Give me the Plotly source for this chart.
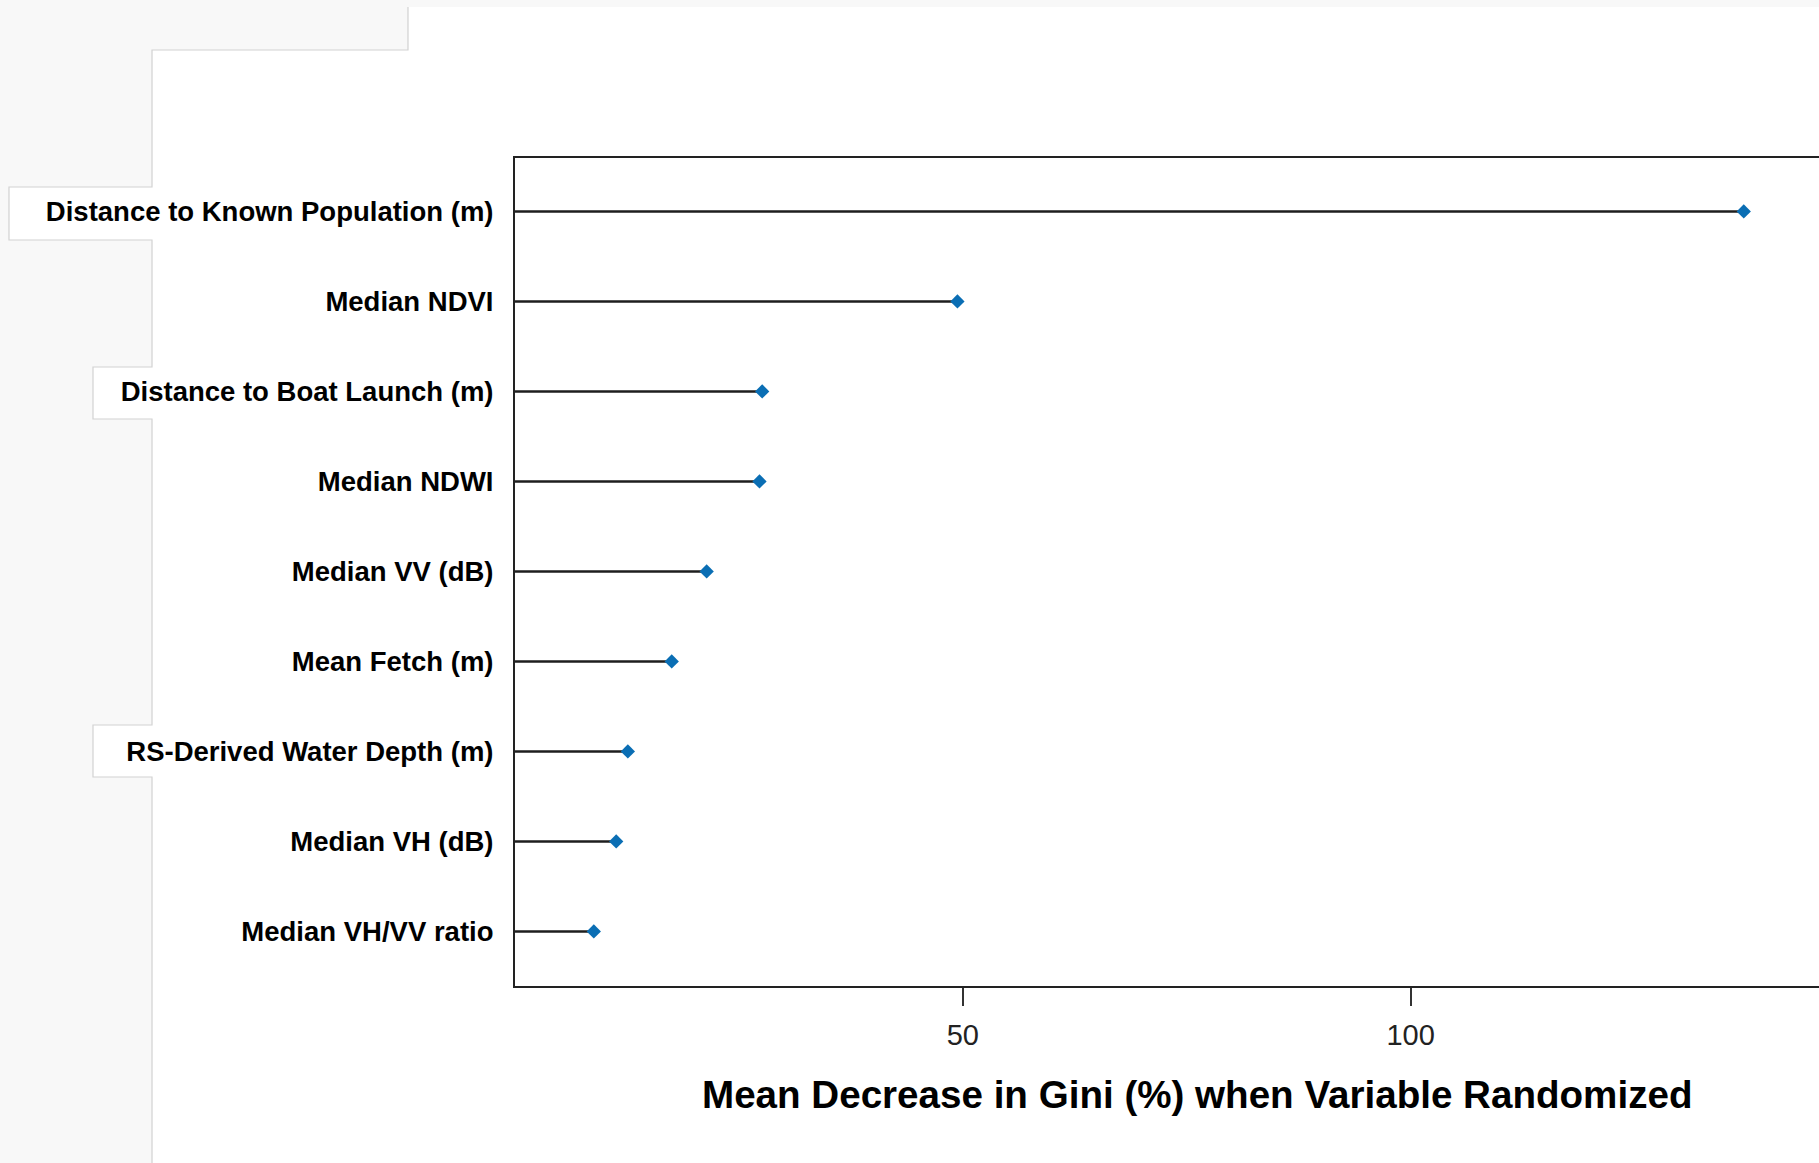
import plotly.graph_objects as go

# ---- data ----
variables = [
    "Distance to Known Population (m)",
    "Median NDVI",
    "Distance to Boat Launch (m)",
    "Median NDWI",
    "Median VV (dB)",
    "Mean Fetch (m)",
    "RS-Derived Water Depth (m)",
    "Median VH (dB)",
    "Median VH/VV ratio",
]
gini_decrease = [137.2, 49.4, 27.6, 27.3, 21.4, 17.5, 12.6, 11.3, 8.8]
x_tick_values = [50, 100]
x_tick_labels = ["50", "100"]
x_title = "Mean Decrease in Gini (%) when Variable Randomized"

# ---- figure geometry ----
W, H = 1819, 1163
ML, MR, MT, MB = 515, 0, 158, 177
PW, PH = W - ML - MR, H - MT - MB


def px(x):
    return (x - ML) / PW


def py(y):
    return (H - MB - y) / PH


def path(points, close=False):
    s = "M " + " L ".join(f"{px(a):.5f},{py(b):.5f}" for a, b in points)
    return s + (" Z" if close else "")


FONT = "Liberation Sans, Arial, sans-serif"

# stems
stem_x, stem_y = [], []
for v, name in zip(gini_decrease, variables):
    stem_x += [0, v, None]
    stem_y += [name, name, None]

fig = go.Figure()
fig.add_trace(go.Scatter(
    x=stem_x, y=stem_y, mode="lines",
    line=dict(color="#1e1e1e", width=2.4),
    hoverinfo="skip", showlegend=False,
))
fig.add_trace(go.Scatter(
    x=gini_decrease, y=variables, mode="markers",
    marker=dict(symbol="diamond", size=11, color="#0a6eb4", line=dict(width=0)),
    showlegend=False,
))

GRAY = "#f8f8f8"
EDGE = "#d2d2d2"
shapes = [
    dict(type="path", xref="paper", yref="paper", layer="below",
         path=path([(0, 0), (W, 0), (W, 7), (408, 7), (408, 50), (152, 50),
                    (152, H), (0, H)], close=True),
         fillcolor=GRAY, line=dict(width=0)),
    dict(type="rect", xref="paper", yref="paper", layer="below",
         x0=px(9), x1=px(153), y0=py(187), y1=py(240),
         fillcolor="white", line=dict(width=0)),
    dict(type="rect", xref="paper", yref="paper", layer="below",
         x0=px(93), x1=px(153), y0=py(367), y1=py(419),
         fillcolor="white", line=dict(width=0)),
    dict(type="rect", xref="paper", yref="paper", layer="below",
         x0=px(93), x1=px(153), y0=py(725), y1=py(777),
         fillcolor="white", line=dict(width=0)),
]
edges = [
    [(408, 7), (408, 50), (152, 50), (152, 187), (9, 187), (9, 240), (152, 240),
     (152, 367), (93, 367), (93, 419), (152, 419), (152, 725), (93, 725),
     (93, 777), (152, 777), (152, H)],
]
for e in edges:
    shapes.append(dict(type="path", xref="paper", yref="paper", layer="below",
                       path=path(e), line=dict(color=EDGE, width=1.2)))

fig.update_layout(
    width=W, height=H,
    margin=dict(l=ML, r=MR, t=MT, b=MB, pad=0),
    paper_bgcolor="white", plot_bgcolor="white",
    shapes=shapes,
    font=dict(family=FONT, color="black"),
    xaxis=dict(
        range=[0, (W - ML) / 8.956],
        tickmode="array", tickvals=x_tick_values, ticktext=x_tick_labels,
        ticks="outside", ticklen=18, tickwidth=2, tickcolor="#333333",
        tickfont=dict(family=FONT, size=29, color="#222222"),
        ticklabelstandoff=4,
        showline=True, linewidth=2, linecolor="#222222", mirror=True,
        showgrid=False, zeroline=False,
    ),
    yaxis=dict(
        type="category", categoryorder="array", categoryarray=variables,
        range=[8.606, -0.594],
        ticks="", showline=True, linewidth=2, linecolor="#222222", mirror=False,
        tickfont=dict(family=FONT, size=27.5, color="black", weight="bold"),
        ticklabelstandoff=14,
        showgrid=False, zeroline=False,
    ),
    annotations=[dict(
        text=x_title, xref="paper", yref="paper",
        x=px(1197), y=py(1094), xanchor="center", yanchor="middle",
        showarrow=False,
        font=dict(family=FONT, size=38.6, color="black", weight="bold"),
    )],
)

fig.write_html(
    "out.html",
    config={"displayModeBar": False},
    post_script="document.body.style.margin='0';document.body.style.overflow='hidden';",
)
